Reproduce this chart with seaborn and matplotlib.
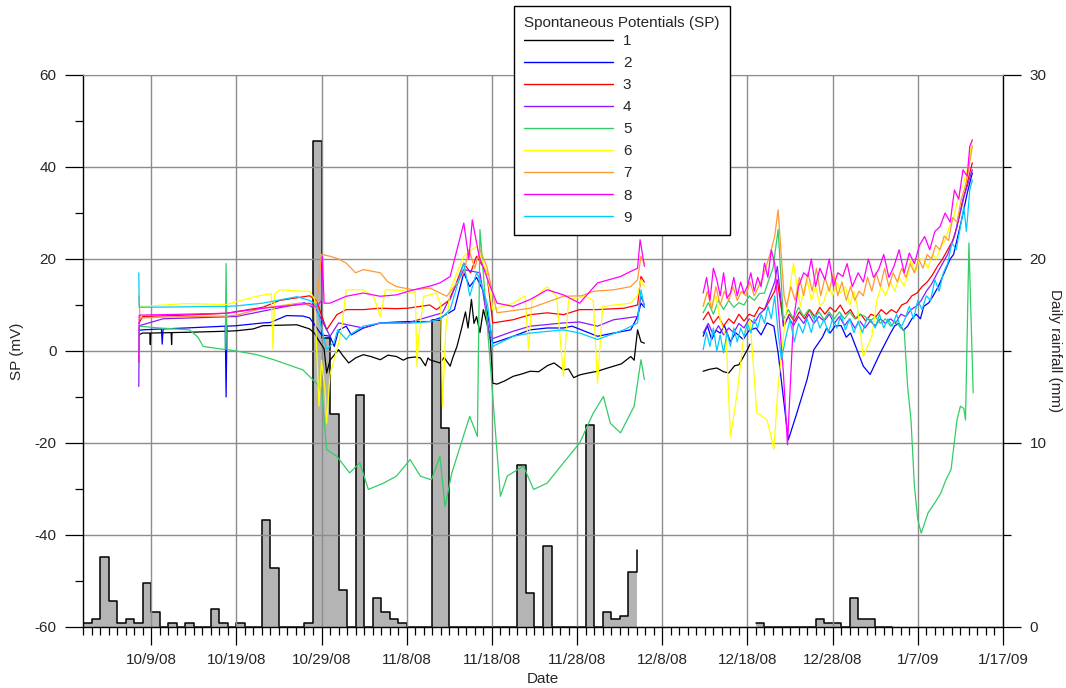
import numpy as np
import pandas as pd
import matplotlib
matplotlib.use("Agg")
import matplotlib.pyplot as plt
import matplotlib.dates as mdates
from matplotlib.lines import Line2D
from matplotlib.ticker import MultipleLocator, FixedLocator
import seaborn as sns

# ---------------- data (days are counted from 10/1/2008) ----------------
START = "2008-10-01"

S1_SEG1_DAY = [6.55, 7.0, 7.85, 7.9, 7.95, 10.35, 10.4, 10.45, 13, 16.8, 18, 20, 21.1, 23, 25.1, 26.6, 27.2, 27.6, 28.3, 28.6, 29, 30, 30.5, 31.2, 32, 32.9, 33.8, 34.9, 35.8, 36.8, 37.6, 38.1, 39, 39.6, 40.2, 40.5, 40.7, 41.9, 42.4, 43.1, 43.4, 43.9, 44.4, 44.9, 45.2, 45.6, 45.9, 46.2, 46.6, 47.0, 47.4, 47.8, 48.1, 48.6, 49.5, 50.5, 51.5, 52.5, 53.5, 54.5, 55.3, 56.4, 57.0, 57.6, 58.3, 59.0, 60.4, 61.4, 62.3, 63.2, 64.3, 64.7, 65.1, 65.5, 65.9]
S1_SEG1_MV = [3.5, 3.9, 3.9, 1.4, 3.9, 4.0, 1.4, 4.0, 4.1, 4.3, 4.4, 4.8, 5.5, 5.6, 5.7, 4.8, 3.8, 2.5, 0.5, -4.8, -2.0, 0.3, -1.0, -2.6, -1.5, -0.8, -1.2, -1.9, -0.9, -1.2, -2.0, -1.5, -1.3, -1.5, -3.2, -1.5, -1.9, -2.6, -1.4, -3.3, -1.5, 1.0, 4.6, 8.5, 5.0, 11.2, 6.0, 7.5, 4.0, 9.0, 6.1, 3.0, -7.0, -7.2, -6.5, -5.5, -5.0, -4.4, -4.5, -3.2, -2.6, -4.1, -3.9, -5.8, -5.2, -4.9, -4.4, -3.8, -3.3, -2.8, -1.2, -2.0, 4.6, 2.0, 1.7]
S1_SEG2_DAY = [72.8, 73.5, 74.4, 75.2, 75.8, 76.5, 77.0, 78.0, 78.3]
S1_SEG2_MV = [-4.4, -4.0, -3.7, -4.5, -4.8, -3.2, -3.0, 0.3, 1.5]

S2_SEG1_DAY = [6.55, 7, 9.2, 9.3, 9.4, 12, 16.7, 16.8, 16.9, 18, 21.1, 22, 23.9, 25.8, 26.6, 27.2, 28, 29, 29.5, 30, 30.9, 31.5, 32.9, 34.9, 36.8, 38.1, 39.6, 40.7, 41.9, 42.6, 43.6, 44.7, 45.4, 46.2, 47.0, 47.7, 48.1, 48.6, 50.5, 52.5, 54.5, 56.4, 57.4, 58.5, 60.4, 62.3, 64.3, 65.1, 65.5, 65.9]
S2_SEG1_MV = [4.5, 4.6, 4.8, 1.5, 4.8, 5.0, 5.4, -10.0, 5.4, 5.5, 6.1, 6.2, 7.7, 7.6, 7.2, 5.7, 3.5, 3.2, 1.0, 4.5, 5.4, 3.5, 5.0, 6.1, 6.3, 6.4, 6.4, 6.4, 7.2, 7.9, 9.0, 17.0, 14.0, 16.0, 13.0, 6.0, 1.7, 2.0, 3.2, 4.6, 5.0, 5.0, 5.4, 4.6, 3.2, 3.9, 4.6, 7.5, 10.4, 9.5]
S2_SEG2_DAY = [72.8, 73.3, 73.8, 74.3, 74.8, 75.3, 76.0, 76.6, 77.5, 78.2, 79.0, 79.6, 80.3, 81.1, 81.6, 82.2, 82.8, 83.8, 85.0, 85.8, 86.8, 87.3, 87.7, 88.3, 89.0, 89.6, 90.1, 91.6, 92.4, 93.6, 94.8, 95.3, 95.8, 96.3, 96.8, 97.3, 97.8, 98.3, 98.7, 99.3, 99.8, 100.4, 101.1, 101.8, 102.2, 102.6, 103.2, 103.8, 104.4]
S2_SEG2_MV = [3.2, 5.5, 2.5, 4.5, 3.9, 5.5, 2.0, 4.0, 2.5, 4.5, 5.0, 3.5, 6.1, 5.4, -0.4, -9.9, -19.3, -13.5, -6.2, 0.3, 3.0, 5.0, 3.9, 5.5, 5.5, 3.0, 3.9, -3.3, -5.1, -0.4, 3.9, 5.5, 6.0, 4.5, 5.4, 7.0, 8.0, 7.0, 9.7, 10.5, 12.0, 14.0, 17.0, 20.0, 21.0, 24.2, 29.0, 34.3, 38.7]

S3_SEG1_DAY = [6.55, 7, 12, 16.8, 21.1, 23.1, 26.6, 27.4, 28.6, 29.8, 30.9, 32.9, 34.9, 36.8, 38.1, 40.7, 41.5, 43.1, 44.7, 45.5, 46.2, 47.4, 48.1, 50.5, 52.5, 54.5, 56.4, 58.3, 60.4, 63.5, 65.1, 65.5, 65.9]
S3_SEG1_MV = [6.0, 7.5, 7.8, 8.2, 9.5, 11.0, 12.0, 11.0, 4.6, 7.9, 9.0, 9.0, 9.3, 9.2, 9.3, 10.0, 9.0, 11.2, 19.1, 17.0, 20.6, 17.0, 6.1, 6.8, 7.9, 8.3, 7.9, 9.0, 9.0, 9.3, 10.0, 16.2, 15.0]
S3_SEG2_DAY = [72.8, 73.4, 74.0, 74.6, 75.2, 75.8, 76.4, 77.0, 77.6, 78.2, 78.8, 79.4, 80.0, 80.6, 81.2, 81.5, 82.0, 82.3, 82.9, 83.5, 84.1, 84.7, 85.3, 85.9, 86.5, 87.1, 87.7, 88.3, 88.9, 89.5, 90.1, 90.7, 91.3, 91.9, 92.5, 93.1, 93.7, 94.3, 94.9, 95.5, 96.1, 96.7, 97.3, 97.9, 98.5, 99.1, 99.7, 100.3, 100.9, 101.5, 102.1, 102.6, 103.1, 103.6, 104.0, 104.4]
S3_SEG2_MV = [6.8, 8.5, 6.0, 7.5, 5.4, 7.0, 6.0, 8.0, 6.5, 8.0, 7.5, 9.5, 9.0, 11.0, 13.0, 15.5, 9.0, 5.4, 8.0, 6.5, 8.5, 7.0, 9.0, 7.5, 9.5, 8.0, 9.5, 8.5, 10.0, 8.0, 9.0, 7.0, 8.0, 6.5, 8.0, 7.5, 9.0, 8.0, 9.0, 8.3, 10.0, 10.5, 12.0, 12.6, 14.0, 15.0, 16.5, 18.4, 20.0, 22.0, 24.0, 27.0, 31.0, 35.0, 38.0, 40.9]

S4_SEG1_DAY = [6.55, 6.6, 9.4, 18, 22, 26, 27.4, 29, 30, 32.9, 34.9, 38.1, 40.7, 42.2, 44.7, 46.6, 47.8, 50.5, 52.5, 56.4, 58.3, 60.4, 62.3, 65.1, 65.5, 65.9]
S4_SEG1_MV = [-7.7, 5.5, 7.0, 7.5, 9.0, 10.5, 9.0, 3.2, 6.1, 5.0, 6.1, 6.1, 7.5, 8.3, 17.7, 17.0, 2.5, 4.3, 5.4, 6.1, 6.3, 5.4, 6.8, 7.5, 11.9, 10.0]
S4_SEG2_DAY = [72.8, 73.4, 74.0, 74.6, 75.2, 75.8, 76.4, 77.0, 77.6, 78.2, 78.8, 79.4, 80.0, 80.6, 81.2, 81.5, 82.0, 82.2, 82.8, 83.4, 84.0, 84.6, 85.2, 85.8, 86.4, 87.0, 87.6, 88.2, 88.8, 89.4, 90.0, 90.6, 91.2, 91.8, 92.4, 93.0, 93.6, 94.2, 94.8, 95.4, 96.0, 96.6, 97.2, 97.8, 98.4, 99.0, 99.6, 100.3, 100.9, 101.5, 102.3, 102.8, 103.3, 103.8, 104.4]
S4_SEG2_MV = [3.9, 6.0, 3.5, 5.5, 3.5, 5.0, 4.0, 6.0, 5.0, 7.0, 6.0, 8.0, 9.0, 12.0, 15.0, 18.4, 10.0, 5.4, 7.5, 5.5, 7.5, 6.0, 8.0, 6.0, 7.5, 6.5, 8.0, 6.0, 7.5, 5.5, 7.0, 5.0, 6.5, 5.0, 6.5, 5.5, 7.0, 6.0, 7.0, 6.0, 8.0, 7.5, 9.0, 9.7, 11.0, 13.0, 14.5, 17.0, 19.0, 21.0, 24.9, 29.0, 33.0, 35.8, 39.4]

S5_SEG1_DAY = [6.55, 6.6, 9, 12.5, 13.5, 14.1, 16.7, 16.8, 16.9, 18, 20.4, 22.4, 25.8, 27.4, 28, 28.6, 29.8, 31.3, 32.5, 33.5, 35.3, 36.8, 38.4, 39.6, 40.9, 41.9, 42.5, 43.3, 44.4, 45.4, 46.3, 46.6, 49.0, 49.8, 51.7, 52.9, 54.5, 56.4, 58.3, 59.9, 61.1, 61.9, 63.1, 64.7, 65.5, 65.9]
S5_SEG1_MV = [-3.0, 5.4, 5.0, 4.6, 3.0, 1.0, 0.3, 19.0, 0.3, 0.0, -0.8, -1.9, -4.1, -7.0, -8.4, -21.4, -22.9, -26.5, -24.3, -30.1, -28.7, -27.2, -23.6, -27.2, -28.0, -22.9, -33.8, -26.5, -20.0, -14.2, -18.6, 26.4, -31.6, -27.2, -25.0, -30.1, -28.7, -24.3, -20.0, -13.5, -9.9, -15.7, -17.8, -12.0, -1.9, -6.2]
S5_SEG2_DAY = [72.8, 73.4, 74.0, 74.6, 75.2, 75.8, 76.4, 77.0, 77.6, 78.2, 78.8, 79.4, 80.0, 80.6, 81.0, 81.6, 82.0, 82.2, 82.8, 83.4, 84.0, 84.6, 85.2, 85.8, 86.4, 87.0, 87.6, 88.2, 88.8, 89.4, 90.0, 90.6, 91.2, 91.8, 92.4, 93.0, 93.6, 94.2, 94.8, 95.4, 96.0, 96.4, 96.8, 97.2, 97.6, 98.0, 98.4, 99.2, 100.0, 100.7, 101.3, 101.9, 102.6, 103.0, 103.4, 103.6, 104.0, 104.5]
S5_SEG2_MV = [8.3, 10.5, 8.0, 11.0, 9.0, 11.0, 9.5, 10.5, 10.0, 12.0, 11.0, 12.5, 12.6, 16.0, 18.0, 26.4, 14.0, 6.8, 9.0, 7.0, 9.5, 7.5, 9.0, 7.0, 8.5, 6.8, 8.5, 7.0, 8.5, 7.0, 8.5, 7.0, 8.0, 7.5, 6.5, 7.5, 6.0, 7.0, 5.4, 6.5, 5.0, 4.6, -7.7, -15.0, -29.4, -36.7, -39.6, -35.2, -33.0, -30.9, -28.0, -25.8, -15.0, -12.0, -12.5, -15.0, 23.5, -9.1]

S6_SEG1_DAY = [6.55, 7, 12, 16.8, 20.4, 22.1, 22.3, 22.5, 23.1, 25.8, 26.6, 27.2, 27.7, 28.0, 28.4, 28.6, 29.0, 29.8, 30.3, 30.9, 32.9, 34.1, 34.9, 35.5, 37.4, 38.6, 39.0, 39.2, 39.4, 40.0, 41.5, 42.0, 42.2, 42.6, 43.1, 44.7, 46.2, 47.4, 48.1, 50.5, 51.9, 52.3, 52.7, 54.5, 55.6, 56.4, 57.0, 59.0, 59.9, 60.4, 61.0, 64.3, 65.1, 65.5, 65.9]
S6_SEG1_MV = [10.0, 9.7, 10.3, 10.1, 11.9, 12.5, 0.3, 12.5, 13.3, 13.0, 13.0, 11.2, -12.0, -2.0, -8.4, -15.7, -5.0, 0.3, 4.0, 13.3, 13.3, 11.9, 7.5, 13.3, 13.2, 12.5, 13.0, -3.3, 3.0, 11.9, 12.6, 10.0, -12.0, 5.0, 13.3, 20.6, 22.8, 17.0, 9.0, 10.4, 12.0, 0.3, 11.0, 14.0, 11.9, -5.5, 11.2, 11.9, 11.0, -7.0, 9.7, 10.4, 12.0, 15.5, 14.0]
S6_SEG2_DAY = [72.8, 73.3, 73.8, 74.3, 74.8, 75.5, 76.0, 76.8, 77.6, 78.3, 79.1, 79.6, 80.3, 80.7, 81.1, 81.6, 82.5, 83.0, 83.4, 84.2, 84.6, 85.0, 85.5, 86.0, 86.5, 86.9, 87.5, 88.0, 88.5, 88.9, 89.5, 90.0, 90.5, 90.9, 91.6, 92.6, 93.2, 93.7, 94.2, 94.8, 95.3, 95.8, 96.4, 96.9, 97.2, 97.7, 98.2, 98.7, 99.2, 99.7, 100.2, 100.7, 101.2, 101.7, 102.2, 102.6, 103.0, 103.3, 103.8, 104.4]
S6_SEG2_MV = [9.7, 13.0, 10.0, 12.0, 6.8, 3.0, -18.6, -9.1, 3.9, 6.8, -13.5, -14.0, -15.0, -18.0, -21.4, -7.7, 8.0, 14.0, 19.1, 9.7, 13.0, 15.5, 11.0, 14.0, 10.0, 10.4, 14.0, 12.0, 15.0, 12.6, 14.0, 10.0, 13.0, 9.7, -1.2, 3.2, 11.2, 14.0, 12.0, 15.0, 13.0, 16.0, 14.1, 17.0, 19.9, 17.0, 20.0, 19.9, 18.0, 21.0, 20.0, 22.8, 24.0, 27.0, 29.0, 32.2, 35.0, 36.0, 39.4, 45.9]

S7_SEG1_DAY = [6.55, 6.7, 12, 16.8, 18, 21.1, 25.4, 27.4, 28.0, 29.0, 30.0, 30.9, 32.0, 32.9, 34.9, 35.8, 36.8, 38.8, 40.7, 42.7, 43.9, 44.7, 45.3, 46.0, 46.6, 47.4, 48.6, 52.5, 56.4, 58.5, 60.0, 62.3, 64.3, 65.1, 65.5, 65.9]
S7_SEG1_MV = [12.0, 7.2, 7.5, 7.6, 7.8, 9.3, 10.4, 9.7, 21.0, 20.6, 20.0, 19.1, 17.0, 17.7, 17.0, 15.0, 14.0, 13.3, 13.7, 11.9, 14.8, 17.0, 22.0, 18.0, 22.0, 18.4, 8.3, 9.3, 11.9, 12.0, 13.0, 13.3, 14.0, 15.5, 20.6, 19.0]
S7_SEG2_DAY = [72.8, 73.3, 73.8, 74.3, 74.8, 75.3, 75.8, 76.3, 76.8, 77.3, 77.8, 78.3, 78.8, 79.3, 79.8, 80.3, 80.8, 81.2, 81.6, 82.0, 82.3, 82.6, 83.1, 83.6, 84.1, 84.6, 85.1, 85.6, 86.1, 86.6, 87.1, 87.6, 88.1, 88.6, 89.1, 89.6, 90.1, 90.6, 91.1, 91.6, 92.1, 92.6, 93.1, 93.6, 94.1, 94.6, 95.1, 95.6, 96.1, 96.6, 97.1, 97.6, 98.1, 98.6, 99.1, 99.6, 100.1, 100.6, 101.1, 101.6, 102.1, 102.6, 103.1, 103.6, 104.0, 104.4]
S7_SEG2_MV = [9.7, 13.0, 9.0, 14.0, 10.0, 13.0, 11.0, 14.0, 11.0, 13.0, 12.0, 15.0, 12.0, 14.0, 16.0, 19.0, 22.0, 25.0, 30.7, 20.0, 12.0, 9.7, 14.0, 11.0, 16.0, 12.0, 17.0, 13.0, 18.0, 12.0, 16.0, 13.0, 17.0, 12.0, 15.0, 11.0, 14.0, 11.0, 13.0, 12.0, 16.0, 13.0, 17.0, 14.0, 18.0, 14.0, 17.0, 15.0, 18.0, 16.0, 19.0, 17.0, 20.0, 18.0, 21.0, 20.0, 23.0, 22.0, 25.0, 24.0, 29.0, 28.0, 33.0, 36.0, 40.0, 44.5]

S8_SEG1_DAY = [6.55, 6.6, 12, 16.8, 21.1, 25.1, 26.6, 27.4, 28.0, 28.1, 28.3, 29.0, 30.9, 32.9, 34.9, 36.8, 38.8, 40.7, 41.9, 43.1, 43.9, 44.7, 45.3, 45.7, 46.5, 47.6, 48.6, 50.5, 52.5, 54.5, 56.4, 58.3, 60.4, 63.1, 64.3, 65.1, 65.4, 65.9]
S8_SEG1_MV = [-2.5, 7.8, 8.0, 8.2, 9.3, 10.0, 10.4, 9.5, 11.0, 20.5, 10.4, 10.4, 11.9, 12.6, 11.9, 12.2, 13.3, 14.1, 14.8, 16.2, 22.0, 27.8, 20.0, 28.5, 20.6, 15.0, 10.4, 9.7, 11.2, 13.3, 12.2, 10.4, 14.8, 16.2, 17.3, 18.0, 24.2, 18.4]
S8_SEG2_DAY = [72.8, 73.2, 73.6, 74.0, 74.4, 74.8, 75.2, 75.6, 76.0, 76.4, 76.8, 77.2, 77.6, 78.0, 78.4, 78.8, 79.2, 79.6, 80.0, 80.4, 80.8, 81.2, 81.6, 82.2, 82.7, 83.4, 84.0, 84.6, 85.1, 85.5, 86.0, 86.5, 87.1, 87.6, 88.1, 88.6, 89.2, 89.7, 90.3, 91.0, 91.6, 92.2, 92.8, 93.4, 94.0, 94.6, 95.2, 95.8, 96.4, 97.0, 97.6, 98.2, 98.8, 99.4, 100.0, 100.6, 101.2, 101.8, 102.3, 102.8, 103.3, 103.8, 104.1, 104.4]
S8_SEG2_MV = [12.6, 16.0, 11.0, 18.0, 15.5, 12.0, 17.0, 11.5, 12.6, 16.0, 12.0, 15.0, 12.5, 14.1, 17.0, 13.0, 16.0, 14.0, 19.1, 16.0, 22.0, 19.0, 9.7, -4.1, -20.4, 6.8, 14.0, 17.0, 16.2, 20.0, 14.0, 18.0, 15.5, 20.0, 14.0, 17.0, 16.2, 19.0, 14.0, 17.0, 15.0, 20.0, 16.0, 17.7, 21.0, 16.0, 18.4, 22.0, 17.0, 21.3, 19.0, 23.0, 24.9, 22.0, 26.0, 27.0, 30.0, 28.0, 35.0, 33.0, 39.4, 38.0, 44.5, 45.9]

S9_SEG1_DAY = [6.55, 6.6, 12, 16.8, 18, 21.1, 25.1, 26.6, 27.4, 28.0, 28.6, 29.5, 29.9, 30.9, 31.3, 32.9, 34.9, 36.8, 38.1, 40.7, 42.0, 43.1, 44.7, 45.4, 46.2, 46.6, 47.5, 48.1, 50.5, 52.5, 56.4, 58.3, 60.4, 63.5, 65.1, 65.5, 65.9]
S9_SEG1_MV = [17.0, 9.5, 9.6, 9.7, 9.8, 10.4, 11.8, 11.0, 10.0, 5.0, 0.3, 2.0, 4.6, 2.5, 3.5, 5.4, 6.1, 6.1, 6.0, 6.4, 7.0, 9.0, 19.1, 12.0, 17.0, 15.5, 10.0, 1.0, 3.2, 3.9, 4.6, 3.9, 2.5, 4.6, 6.1, 13.3, 9.7]
S9_SEG2_DAY = [72.8, 73.2, 73.6, 74.0, 74.4, 74.8, 75.2, 75.6, 76.0, 76.4, 76.8, 77.2, 77.6, 78.0, 78.4, 78.8, 79.2, 79.6, 80.0, 80.4, 80.8, 81.2, 81.6, 82.0, 82.5, 83.0, 83.5, 84.0, 84.5, 85.0, 85.5, 86.0, 86.5, 87.0, 87.5, 88.0, 88.5, 89.0, 89.5, 90.0, 90.5, 91.0, 91.5, 92.0, 92.5, 93.0, 93.5, 94.0, 94.5, 95.0, 95.5, 96.0, 96.5, 97.0, 97.5, 98.0, 98.5, 99.0, 99.5, 100.0, 100.5, 101.0, 101.5, 102.0, 102.5, 103.0, 103.4, 103.7, 104.1, 104.4]
S9_SEG2_MV = [0.3, 4.0, 1.0, 5.0, 0.0, 3.5, -0.4, 4.0, 1.0, 5.0, 2.0, 5.0, 3.2, 6.0, 3.9, 7.0, 5.0, 8.0, 6.0, 9.7, 7.0, 12.0, 4.0, -1.9, 3.0, 6.8, 2.0, 6.0, 3.9, 7.0, 4.0, 8.0, 5.0, 6.8, 4.0, 7.0, 5.0, 8.0, 4.6, 7.0, 4.0, 6.5, 4.0, 7.0, 6.8, 5.0, 8.0, 5.0, 7.0, 5.4, 8.0, 5.0, 7.0, 9.7, 7.0, 11.0, 9.0, 12.0, 11.0, 15.5, 13.0, 17.0, 19.0, 23.5, 22.0, 27.0, 31.4, 26.0, 35.0, 37.2]

SERIES_NAMES = ["1", "2", "3", "4", "5", "6", "7", "8", "9"]
SERIES_COLORS = ["#000000", "#0000ff", "#ff0000", "#8c1aff", "#33cc66",
                 "#ffff00", "#ff9933", "#ff00ff", "#00ccff"]

# daily rainfall (mm), first block starts 10/1/08, second block starts 12/19/08
RAIN_A = [0.22, 0.44, 3.8, 1.4, 0.22, 0.44, 0.22, 2.4, 0.83, 0, 0.22, 0, 0.22, 0, 0, 1.0, 0.22, 0, 0.22, 0, 0,
          5.8, 3.2, 0, 0, 0, 0.22, 26.4, 15.7, 11.6, 2.0, 0, 12.6, 0, 1.6, 0.83, 0.43, 0.22, 0, 0, 0,
          16.7, 10.8, 0, 0, 0, 0, 0, 0, 0, 0, 8.8, 1.83, 0, 4.4, 0, 0, 0, 0, 11.0, 0, 0.83, 0.42, 0.62, 3.0, 4.2]
RAIN_B = [0.2, 0, 0, 0, 0, 0, 0, 0.42, 0.2, 0.2, 0, 1.6, 0.42, 0.42, 0, 0, 0]
RAIN_B_START = 79

X_TICK_LABELS = ["10/9/08", "10/19/08", "10/29/08", "11/8/08", "11/18/08", "11/28/08",
                 "12/8/08", "12/18/08", "12/28/08", "1/7/09", "1/17/09"]

# ---------------- build table ----------------
seg_tables = [
    (S1_SEG1_DAY, S1_SEG1_MV, S1_SEG2_DAY, S1_SEG2_MV),
    (S2_SEG1_DAY, S2_SEG1_MV, S2_SEG2_DAY, S2_SEG2_MV),
    (S3_SEG1_DAY, S3_SEG1_MV, S3_SEG2_DAY, S3_SEG2_MV),
    (S4_SEG1_DAY, S4_SEG1_MV, S4_SEG2_DAY, S4_SEG2_MV),
    (S5_SEG1_DAY, S5_SEG1_MV, S5_SEG2_DAY, S5_SEG2_MV),
    (S6_SEG1_DAY, S6_SEG1_MV, S6_SEG2_DAY, S6_SEG2_MV),
    (S7_SEG1_DAY, S7_SEG1_MV, S7_SEG2_DAY, S7_SEG2_MV),
    (S8_SEG1_DAY, S8_SEG1_MV, S8_SEG2_DAY, S8_SEG2_MV),
    (S9_SEG1_DAY, S9_SEG1_MV, S9_SEG2_DAY, S9_SEG2_MV),
]
t0 = pd.Timestamp(START)
rows = []
for name, (d1, v1, d2, v2) in zip(SERIES_NAMES, seg_tables):
    for seg, (dd, vv) in enumerate([(d1, v1), (d2, v2)]):
        for d, v in zip(dd, vv):
            rows.append((t0 + pd.to_timedelta(d, unit="D"), v, name, seg))
df = pd.DataFrame(rows, columns=["date", "mV", "series", "seg"])

rain_a = pd.DataFrame({"date": pd.date_range(t0, periods=len(RAIN_A), freq="D"), "mm": RAIN_A})
rain_b = pd.DataFrame({"date": pd.date_range(t0 + pd.Timedelta(days=RAIN_B_START), periods=len(RAIN_B), freq="D"),
                       "mm": RAIN_B})

# ---------------- figure ----------------
sns.set_style("white")
plt.rcParams["font.family"] = ["Liberation Sans", "DejaVu Sans"]
plt.rcParams["font.size"] = 11
plt.rcParams["axes.unicode_minus"] = False

fig = plt.figure(figsize=(10.66, 6.88), dpi=100)
ax = fig.add_axes([83 / 1066, 61 / 688, 920 / 1066, 552 / 688])
ax2 = ax.twinx()
ax.set_zorder(ax2.get_zorder() + 1)
ax.patch.set_visible(False)

# rainfall (right axis)
for r in (rain_a, rain_b):
    ax2.fill_between(r["date"], r["mm"], step="post", color="#b4b4b4", linewidth=0)
    ax2.plot(r["date"], r["mm"], drawstyle="steps-post", color="black", lw=1.1)
ax2.set_ylim(0, 30)
ax2.yaxis.set_major_locator(MultipleLocator(10))
ax2.yaxis.set_minor_locator(MultipleLocator(5))
ax2.set_ylabel("Daily rainfall (mm)", rotation=270, labelpad=11)

# SP lines (left axis)
sns.lineplot(data=df, x="date", y="mV", hue="series", units="seg", estimator=None,
             palette=dict(zip(SERIES_NAMES, SERIES_COLORS)), sort=False,
             linewidth=0.9, legend=False, ax=ax)
ax.set_ylim(-60, 60)
ax.yaxis.set_major_locator(MultipleLocator(20))
ax.yaxis.set_minor_locator(MultipleLocator(10))
ax.set_ylabel("SP (mV)", labelpad=8)
ax.set_xlabel("Date", labelpad=3)

x0 = pd.Timestamp("2008-10-01")
x1 = pd.Timestamp("2009-01-17")
ax.set_xlim(x0, x1)
major_dates = pd.date_range("2008-10-09", periods=len(X_TICK_LABELS), freq="10D")
ax.xaxis.set_major_locator(FixedLocator(mdates.date2num(major_dates)))
ax.set_xticklabels(X_TICK_LABELS)
ax.xaxis.set_minor_locator(mdates.DayLocator())

ax.grid(True, which="major", color="#8c8c8c", lw=1.0)
ax.set_axisbelow(True)

for a in (ax, ax2):
    a.tick_params(which="major", direction="out", length=13, width=0.9, color="black", pad=6)
    a.tick_params(which="minor", direction="out", length=6, width=0.9, color="black")
ax.tick_params(axis="x", which="both", bottom=True)
ax.tick_params(axis="y", which="both", left=True)
ax2.tick_params(axis="y", which="both", right=True)

for s in ("left", "bottom"):
    ax.spines[s].set_color("black")
    ax.spines[s].set_linewidth(1.0)
ax.spines["top"].set_color("#8c8c8c")
ax.spines["right"].set_visible(False)
ax2.spines["right"].set_color("black")
ax2.spines["right"].set_linewidth(1.0)
for s in ("left", "bottom", "top"):
    ax2.spines[s].set_visible(False)

handles = [Line2D([0], [0], color=c, lw=1.0) for c in SERIES_COLORS]
leg = fig.legend(handles, SERIES_NAMES, title="Spontaneous Potentials (SP)",
                 loc="upper left", bbox_to_anchor=(514 / 1066, 1 - 6 / 688), borderaxespad=0,
                 frameon=True, fancybox=False, framealpha=1, edgecolor="black",
                 handlelength=5.8, handletextpad=0.65, labelspacing=0.53,
                 borderpad=0.68, fontsize=11, title_fontsize=11, alignment="left")
leg.get_frame().set_linewidth(1.0)
leg._legend_box.sep = 2.5

fig.savefig("out.png", dpi=100)
